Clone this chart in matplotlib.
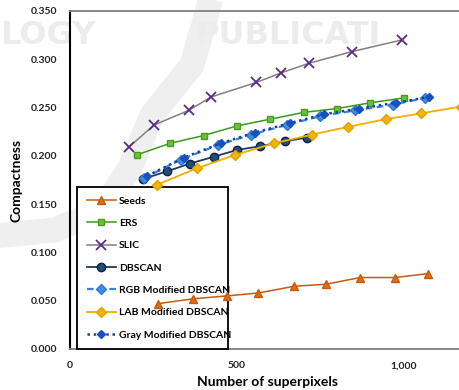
import matplotlib
matplotlib.use("Agg")
import matplotlib.pyplot as plt
from matplotlib.lines import Line2D

plt.rcParams['font.family'] = ['Lato', 'DejaVu Sans']
plt.rcParams['font.weight'] = 'bold'
plt.rcParams['axes.labelweight'] = 'bold'

# compactness vs. number of superpixels for each method
seeds_x = [265, 369, 470, 564, 672, 766, 869, 974, 1071]
seeds_y = [0.047, 0.052, 0.055, 0.058, 0.065, 0.067, 0.074, 0.074, 0.078]

ers_x = [200, 300, 400, 500, 600, 700, 800, 900, 1000]
ers_y = [0.201, 0.213, 0.221, 0.231, 0.238, 0.245, 0.249, 0.255, 0.260]

slic_x = [176, 252, 355, 423, 558, 633, 717, 845, 994]
slic_y = [0.209, 0.232, 0.247, 0.261, 0.276, 0.286, 0.296, 0.308, 0.320]

dbscan_x = [218, 291, 359, 430, 499, 570, 643, 711]
dbscan_y = [0.176, 0.184, 0.192, 0.199, 0.206, 0.210, 0.215, 0.219]

rgb_x = [222, 331, 442, 543, 649, 748, 854, 967, 1064]
rgb_y = [0.177, 0.196, 0.211, 0.222, 0.232, 0.241, 0.247, 0.253, 0.260]

lab_x = [260, 379, 495, 611, 725, 832, 946, 1052, 1170]
lab_y = [0.170, 0.187, 0.201, 0.213, 0.222, 0.230, 0.238, 0.244, 0.251]

gray_x = [230, 340, 452, 553, 660, 760, 866, 978, 1075]
gray_y = [0.179, 0.198, 0.213, 0.224, 0.234, 0.243, 0.249, 0.255, 0.261]

y_ticks = [0.0, 0.05, 0.10, 0.15, 0.20, 0.25, 0.30, 0.35]
x_ticks = [0, 500, 1000]
x_tick_labels = ['0', '500', '1,000']

W, H = 460, 390
fig = plt.figure(figsize=(4.6, 3.9), dpi=100)

# faint publisher watermark behind the plot
def px(x, y):
    return x / W, 1 - y / H

band = [(212, -5), (192, 65), (152, 115), (130, 168), (102, 210), (55, 230), (-5, 236)]
bx, by = zip(*[px(x, y) for x, y in band])
fig.add_artist(Line2D(bx, by, color='#efefef', lw=18, solid_capstyle='butt',
                      solid_joinstyle='round', zorder=-2))
fig.text(0.0, px(0, 35)[1], 'LOGY', fontsize=23, color='#ececec', va='center',
         ha='left', fontweight='bold', family='DejaVu Sans', zorder=-1)
fig.text(px(195, 0)[0], px(0, 35)[1], 'PUBLICATI', fontsize=23, color='#ececec',
         va='center', ha='left', fontweight='bold', family='DejaVu Sans', zorder=-1)

ax = fig.add_axes([70 / W, 1 - 349 / H, 1 - 70 / W + 0.01, (349 - 11) / H])
ax.patch.set_alpha(0)

ax.plot(seeds_x, seeds_y, color='#c55a11', lw=1.1, marker='^', ms=6,
        mfc='#e36c0a', mec='#c55a11', label='Seeds', zorder=4)
ax.plot(ers_x, ers_y, color='#3a9a1c', lw=1.1, marker='s', ms=5,
        mfc='#6cc040', mec='#4a9a20', label='ERS', zorder=4)
ax.plot(slic_x, slic_y, color='#808080', lw=1.1, marker='x', ms=7, mew=1.3,
        mec='#5b2a86', label='SLIC', zorder=4)
ax.plot(dbscan_x, dbscan_y, color='#203864', lw=1.3, marker='o', ms=6,
        mfc='#1f4e79', mec='#0d2240', label='DBSCAN', zorder=4)
ax.plot(rgb_x, rgb_y, color='#2e86de', lw=1.6, ls=(0, (3, 2)), marker='D', ms=5,
        mfc='#3c8fe0', mec='#2e7ad0', label='RGB Modified DBSCAN', zorder=5)
ax.plot(lab_x, lab_y, color='#f0b000', lw=1.3, marker='D', ms=5,
        mfc='#f5b400', mec='#e0a000', label='LAB Modified DBSCAN', zorder=4)
ax.plot(gray_x, gray_y, color='#1f3fa0', lw=1.8, ls=(0, (1, 1.5)), marker='D', ms=4,
        mfc='#1a4fc0', mec='#1a4fc0', label='Gray Modified DBSCAN', zorder=5)

ax.set_xlim(0, 1182)
ax.set_ylim(0, 0.35)
ax.set_yticks(y_ticks)
ax.set_yticklabels([f'{v:.3f}' for v in y_ticks])
ax.set_xticks(x_ticks)
ax.set_xticklabels(x_tick_labels)
ax.tick_params(length=0, labelsize=7.5, pad=9, colors='#222222')

ax.spines['left'].set_color('black')
ax.spines['left'].set_linewidth(1.5)
ax.spines['bottom'].set_color('#808080')
ax.spines['bottom'].set_linewidth(1.3)
ax.spines['top'].set_color('#808080')
ax.spines['top'].set_linewidth(1.3)
ax.spines['right'].set_visible(False)

ax.set_xlabel('Number of superpixels', fontsize=10, fontweight='bold', labelpad=4)
ax.set_ylabel('Compactness', fontsize=10, fontweight='bold', labelpad=6)

leg = ax.legend(loc='lower left', bbox_to_anchor=(0.019, 0.0, 0.381, 0.468),
                mode='expand', fontsize=7.5, labelspacing=1.25, handlelength=2.8,
                handletextpad=0.3, borderpad=0.9, borderaxespad=0, fancybox=False,
                edgecolor='black', facecolor='white', framealpha=1)
leg.get_frame().set_linewidth(1.3)
leg.set_zorder(3)

fig.savefig('out.png', dpi=100)
